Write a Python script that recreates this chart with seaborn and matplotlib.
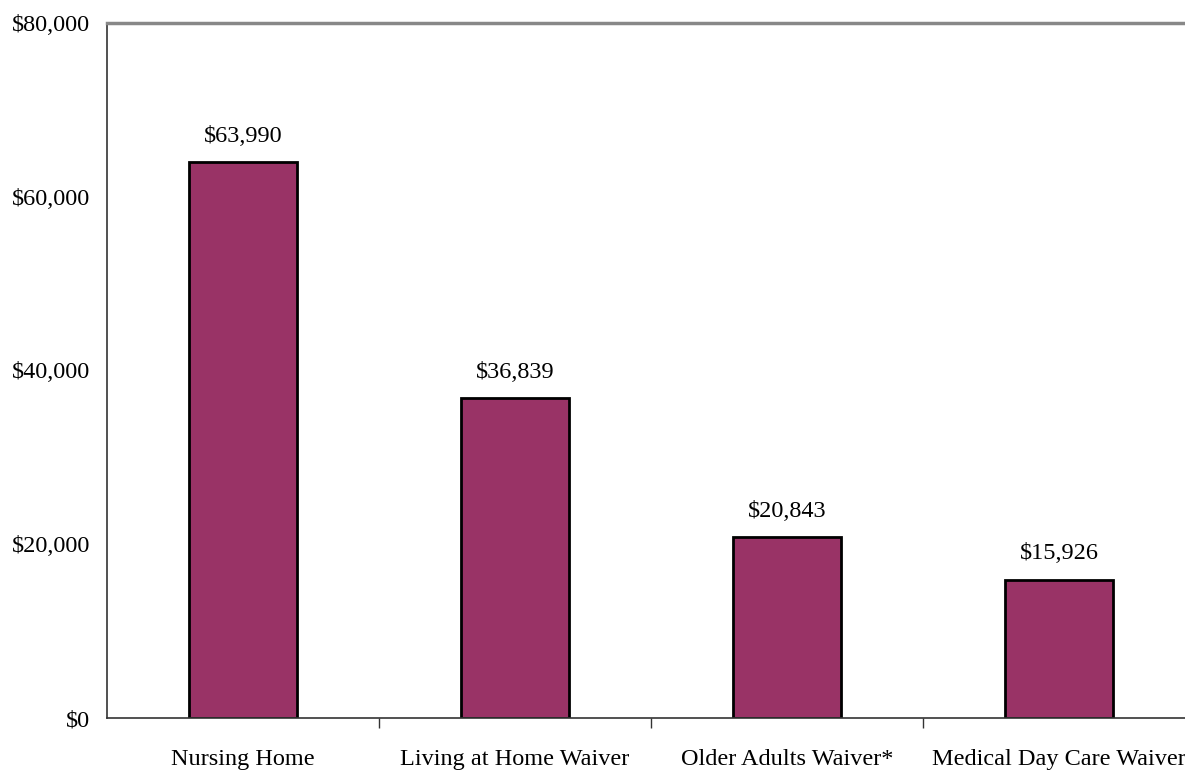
import pandas as pd
import seaborn as sns
import matplotlib.pyplot as plt
from matplotlib.ticker import FuncFormatter, FixedLocator

# Average annual cost per participant
programs = ["Nursing Home", "Living at Home Waiver", "Older Adults Waiver*", "Medical Day Care Waiver"]
costs = [63990, 36839, 20843, 15926]

df = pd.DataFrame({"Program": programs, "Cost": costs})

sns.set_style("white")
plt.rcParams['font.family'] = ['Liberation Serif', 'DejaVu Serif']
plt.rcParams['text.color'] = 'black'

fig = plt.figure(figsize=(11.85, 7.7), dpi=100)
# axes run a little past the right edge, like the original
ax = fig.add_axes([107 / 1185, 52 / 770, 1088 / 1185, 695 / 770])

sns.barplot(data=df, x="Program", y="Cost", color="#993366", width=0.4,
            edgecolor="black", linewidth=2, saturation=1, ax=ax)

ax.set_ylim(0, 80000)
ax.set_xlim(-0.5, len(programs) - 0.5)
ax.set_yticks([0, 20000, 40000, 60000, 80000])
ax.yaxis.set_major_formatter(FuncFormatter(lambda v, p: f"${v:,.0f}"))

# tick marks between categories, labels centred under bars
ax.xaxis.set_major_locator(FixedLocator([0.5, 1.5, 2.5]))
ax.xaxis.set_minor_locator(FixedLocator(range(len(programs))))
ax.set_xticklabels([], minor=False)
ax.set_xticklabels(programs, minor=True)
ax.tick_params(axis="x", which="major", bottom=True, direction="out", length=7, width=1, color="#333333")
ax.tick_params(axis="x", which="minor", length=0, labelsize=17.5, pad=22, labelcolor="black")
ax.tick_params(axis="y", direction="out", length=7, width=1, labelsize=17.5, color="#333333",
               labelcolor="black", pad=5)
ax.set_xlabel("")
ax.set_ylabel("")

for name in ["left", "bottom"]:
    ax.spines[name].set_color("#333333")
    ax.spines[name].set_linewidth(1.2)
ax.spines["right"].set_visible(False)
ax.spines["top"].set_color("#888888")
ax.spines["top"].set_linewidth(2.5)

for i, v in enumerate(costs):
    ax.annotate(f"${v:,}", (i, v), xytext=(0, 11), textcoords="offset points",
                ha="center", va="bottom", fontsize=17.5, color="black")

fig.savefig("out.png", dpi=100)
